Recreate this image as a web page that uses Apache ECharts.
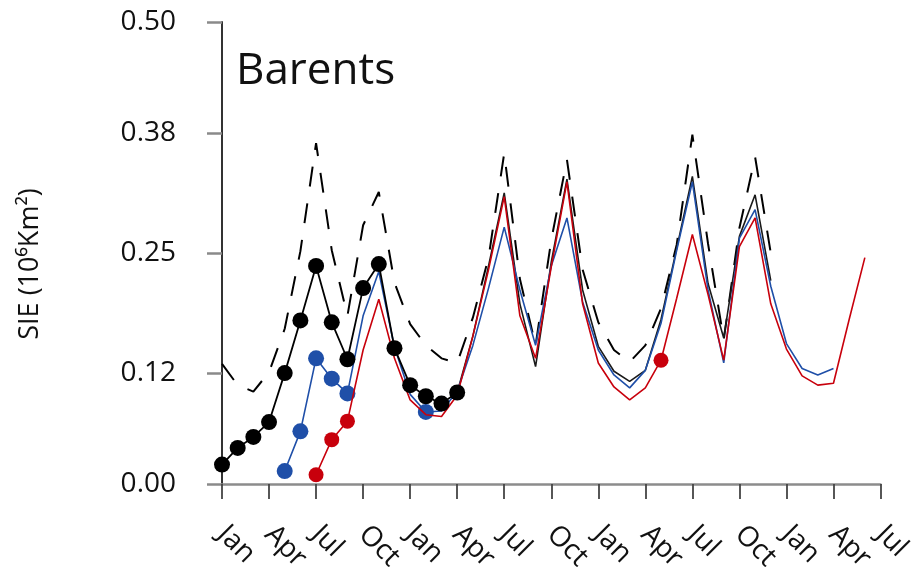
<!DOCTYPE html>
<html>
<head>
<meta charset="utf-8">
<script src="https://cdn.jsdelivr.net/npm/echarts@6/dist/echarts.min.js"></script>
<style>
  html, body { margin: 0; padding: 0; background: #ffffff; }
  #chart { width: 915px; height: 575px; }
</style>
</head>
<body>
<div id="chart"></div>
<script>
// Barents sea-ice extent, monthly, month 0 = January of the first year
const monthNames = ['Jan', 'Apr', 'Jul', 'Oct'];
const yTickValues = [0, 0.12, 0.25, 0.38, 0.5];

// observed extent (dots for the first 16 months, thin line afterwards)
const obsStart = 0;
const obsValues = [
  0.021, 0.039, 0.051, 0.067, 0.120, 0.177, 0.236, 0.175, 0.135, 0.212, 0.238, 0.147,
  0.107, 0.095, 0.087, 0.099, 0.160, 0.236, 0.315, 0.195, 0.127, 0.240, 0.330, 0.210,
  0.149, 0.122, 0.111, 0.123, 0.178, 0.255, 0.333, 0.217, 0.158, 0.268, 0.313, 0.220
];
const obsDotCount = 16;

// upper envelope (dashed)
const upperStart = 0;
const upperValues = [
  0.130, 0.107, 0.100, 0.121, 0.168, 0.252, 0.369, 0.253, 0.182, 0.280, 0.316, 0.218,
  0.173, 0.150, 0.136, 0.131, 0.180, 0.245, 0.358, 0.222, 0.150, 0.264, 0.351, 0.232,
  0.175, 0.145, 0.132, 0.150, 0.190, 0.259, 0.378, 0.260, 0.156, 0.277, 0.354, 0.250
];

// blue run
const blueStart = 4;
const blueValues = [
  0.014, 0.057, 0.136, 0.114, 0.098, 0.182, 0.230, 0.148, 0.097, 0.078, 0.079, 0.100,
  0.150, 0.212, 0.278, 0.210, 0.150, 0.236, 0.288, 0.197, 0.145, 0.118, 0.104, 0.123,
  0.174, 0.253, 0.327, 0.210, 0.131, 0.266, 0.297, 0.214, 0.152, 0.125, 0.118, 0.125
];
const blueMarkedMonths = [4, 5, 6, 7, 8, 13];

// red run
const redStart = 6;
const redValues = [
  0.010, 0.048, 0.068, 0.145, 0.200, 0.136, 0.091, 0.075, 0.073, 0.096, 0.160, 0.232,
  0.311, 0.182, 0.136, 0.235, 0.327, 0.195, 0.131, 0.105, 0.091, 0.104, 0.134, 0.201,
  0.270, 0.205, 0.134, 0.257, 0.288, 0.195, 0.146, 0.117, 0.107, 0.109, 0.178, 0.245
];
const redMarkedMonths = [6, 7, 8, 28];

const FONT = '"Open Sans", "Noto Sans", sans-serif';
const BLACK = '#000000';
const BLUE = '#1f4fa8';
const RED = '#c8000c';

function toPoints(start, values) {
  return values.map((v, i) => [start + i, v]);
}
function markerSize(marked, size) {
  return (val) => (marked.indexOf(val[0]) >= 0 ? size : 0);
}

const obsPoints = toPoints(obsStart, obsValues);

const chart = echarts.init(document.getElementById('chart'), null, { renderer: 'canvas' });

chart.setOption({
  animation: false,
  backgroundColor: '#ffffff',
  title: {
    text: 'Barents',
    left: 236,
    top: 49,
    padding: 0,
    textStyle: { fontFamily: FONT, fontSize: 44, fontWeight: 'normal', color: '#111111' }
  },
  graphic: [{
    type: 'text',
    x: 30,
    y: 264,
    rotation: Math.PI / 2,
    style: {
      text: 'SIE (10⁶Km²)',
      font: '27px ' + FONT,
      fill: '#111111',
      align: 'center',
      verticalAlign: 'middle',
      textAlign: 'center',
      textVerticalAlign: 'middle'
    }
  }],
  grid: { left: 222, right: 31.5, top: 22, bottom: 91, containLabel: false },
  xAxis: {
    type: 'value',
    min: 0,
    max: 42,
    interval: 3,
    splitLine: { show: false },
    axisLine: { show: true, onZero: false, lineStyle: { color: '#8c8c8c', width: 2.5 } },
    axisTick: { show: true, inside: false, length: 15, lineStyle: { color: '#444444', width: 1.8 } },
    axisLabel: {
      show: true,
      rotate: -45,
      margin: 46,
      fontFamily: FONT,
      fontSize: 28,
      color: '#111111',
      formatter: (v) => monthNames[Math.round(v / 3) % 4]
    }
  },
  yAxis: {
    type: 'value',
    min: 0,
    max: 0.5,
    splitLine: { show: false },
    axisLine: { show: true, onZero: false, lineStyle: { color: '#333333', width: 2 } },
    axisTick: {
      show: true, inside: false, length: 15,
      customValues: yTickValues,
      lineStyle: { color: '#8a8a8a', width: 2.5 }
    },
    axisLabel: {
      show: true,
      margin: 46,
      customValues: yTickValues,
      fontFamily: FONT,
      fontSize: 28,
      color: '#111111',
      formatter: (v) => v.toFixed(2)
    }
  },
  series: [
    {
      name: 'upper',
      type: 'line',
      z: 1,
      data: toPoints(upperStart, upperValues),
      showSymbol: false,
      lineStyle: { color: BLACK, width: 2, type: [20, 17] }
    },
    {
      name: 'observed continued',
      type: 'line',
      z: 2,
      data: obsPoints.slice(obsDotCount - 1),
      showSymbol: false,
      lineStyle: { color: '#1a1a1a', width: 1.6 }
    },
    {
      name: 'blue',
      type: 'line',
      z: 3,
      data: toPoints(blueStart, blueValues),
      symbol: 'circle',
      showSymbol: true,
      symbolSize: markerSize(blueMarkedMonths, 16),
      itemStyle: { color: BLUE },
      lineStyle: { color: BLUE, width: 1.6 }
    },
    {
      name: 'red',
      type: 'line',
      z: 4,
      data: toPoints(redStart, redValues),
      symbol: 'circle',
      showSymbol: true,
      symbolSize: markerSize(redMarkedMonths, 15),
      itemStyle: { color: RED },
      lineStyle: { color: RED, width: 1.6 }
    },
    {
      name: 'observed',
      type: 'line',
      z: 5,
      data: obsPoints.slice(0, obsDotCount),
      symbol: 'circle',
      symbolSize: 16,
      showSymbol: true,
      itemStyle: { color: BLACK },
      lineStyle: { color: BLACK, width: 1.8 }
    }
  ]
});
</script>
</body>
</html>
